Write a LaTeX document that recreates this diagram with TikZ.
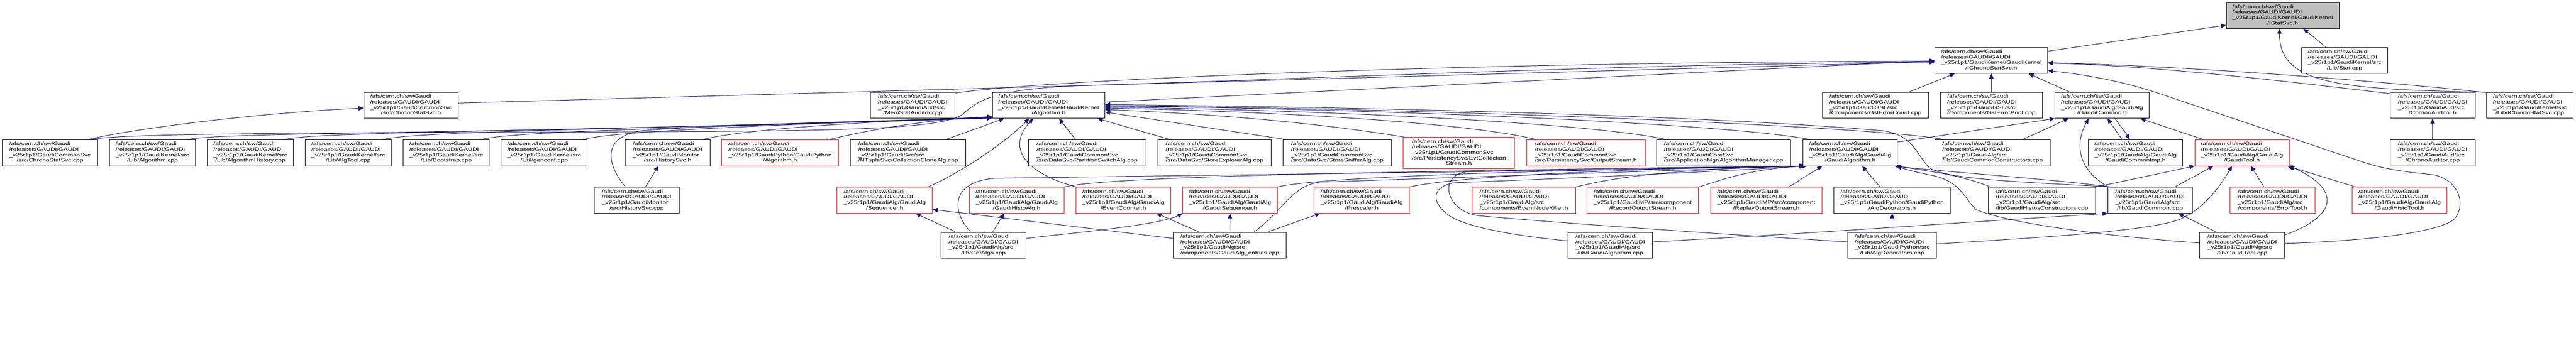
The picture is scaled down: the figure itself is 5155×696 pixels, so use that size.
\documentclass[tikz,border=0pt]{standalone}
\usepackage{fontspec}
\newfontfamily\dfont[FakeStretch=1.27]{Liberation Sans}
\usetikzlibrary{arrows.meta,backgrounds}
\definecolor{midnight}{HTML}{191970}
\definecolor{greyroot}{gray}{0.75}
\newcommand{\glab}[2]{\begin{tabular}{@{}l@{}}/afs/cern.ch/sw/Gaudi\\/releases/GAUDI/GAUDI\\\_v25r1p1/#1\\\multicolumn{1}{@{}c@{}}{#2}\end{tabular}}
\tikzset{
  nbox/.style={rectangle, draw=black, fill=white, line width=1pt, inner sep=0pt, minimum height=52pt, font=\dfont\fontsize{10pt}{11pt}\selectfont, text=black},
  rbox/.style={nbox, draw=red},
  lnk/.style={draw=midnight, line width=1pt, -{Triangle[length=10pt,width=9pt]}},
}
\begin{document}
\begin{tikzpicture}[x=1pt,y=-1pt]
\useasboundingbox (0,0) rectangle (5155,696);
% row 0/1
\node[nbox, fill=greyroot, minimum width=226pt] (S0) at (4568,31) {\glab{GaudiKernel/GaudiKernel}{/IStatSvc.h}};
\node[nbox, minimum width=226pt] (C) at (3985,121) {\glab{GaudiKernel/GaudiKernel}{/IChronoStatSvc.h}};
\node[nbox, minimum width=172pt] (Stat) at (4692,121) {\glab{GaudiKernel/src}{/Lib/Stat.cpp}};
% row 2
\node[nbox, minimum width=189pt] (CSh) at (822.5,211) {\glab{GaudiCommonSvc}{/src/ChronoStatSvc.h}};
\node[nbox, minimum width=169pt] (MemStat) at (1826.5,211) {\glab{GaudiAud/src}{/MemStatAuditor.cpp}};
\node[nbox, minimum width=225pt] (AlgH) at (2098.5,211) {\glab{GaudiKernel/GaudiKernel}{/Algorithm.h}};
\node[nbox, minimum width=212pt] (GslCount) at (3753,211) {\glab{GaudiGSL/src}{/Components/GslErrorCount.cpp}};
\node[nbox, minimum width=204pt] (GslPrint) at (3985,211) {\glab{GaudiGSL/src}{/Components/GslErrorPrint.cpp}};
\node[nbox, minimum width=189pt] (GCh) at (4206.5,211) {\glab{GaudiAlg/GaudiAlg}{/GaudiCommon.h}};
\node[nbox, minimum width=170pt] (ChronoAudH) at (4868,211) {\glab{GaudiAud/src}{/ChronoAuditor.h}};
\node[nbox, minimum width=173pt] (IChronoCpp) at (5062.5,211) {\glab{GaudiKernel/src}{/Lib/IChronoStatSvc.cpp}};
% row 3
\node[nbox, minimum width=190pt] (CScpp) at (100,306) {\glab{GaudiCommonSvc}{/src/ChronoStatSvc.cpp}};
\node[nbox, minimum width=172pt] (Algcpp) at (305,306) {\glab{GaudiKernel/src}{/Lib/Algorithm.cpp}};
\node[nbox, minimum width=172pt] (AlgHist) at (501,306) {\glab{GaudiKernel/src}{/Lib/AlgorithmHistory.cpp}};
\node[nbox, minimum width=172pt] (AlgTool) at (697,306) {\glab{GaudiKernel/src}{/Lib/AlgTool.cpp}};
\node[nbox, minimum width=172pt] (Boot) at (893,306) {\glab{GaudiKernel/src}{/Lib/Bootstrap.cpp}};
\node[nbox, minimum width=172pt] (genconf) at (1089,306) {\glab{GaudiKernel/src}{/Util/genconf.cpp}};
\node[nbox, minimum width=170pt] (HistH) at (1336,306) {\glab{GaudiMonitor}{/src/HistorySvc.h}};
\node[rbox, minimum width=234pt] (GPAlg) at (1561,306) {\glab{GaudiPython/GaudiPython}{/Algorithm.h}};
\node[nbox, minimum width=231pt] (CollClone) at (1817.5,306) {\glab{GaudiSvc/src}{/NTupleSvc/CollectionCloneAlg.cpp}};
\node[nbox, minimum width=235pt] (PartSw) at (2175.5,306) {\glab{GaudiCommonSvc}{/src/DataSvc/PartitionSwitchAlg.cpp}};
\node[nbox, minimum width=227pt] (StoreExp) at (2430.5,306) {\glab{GaudiCommonSvc}{/src/DataSvc/StoreExplorerAlg.cpp}};
\node[nbox, minimum width=216pt] (StoreSniff) at (2676,306) {\glab{GaudiCommonSvc}{/src/DataSvc/StoreSnifferAlg.cpp}};
\node[rbox, minimum width=223pt, minimum height=63pt] (EvtColl) at (2919.5,306.5) {\begin{tabular}{@{}l@{}}/afs/cern.ch/sw/Gaudi\\/releases/GAUDI/GAUDI\\\_v25r1p1/GaudiCommonSvc\\/src/PersistencySvc/EvtCollection\\\multicolumn{1}{@{}c@{}}{Stream.h}\end{tabular}};
\node[rbox, minimum width=237pt] (OutStr) at (3173.5,306) {\glab{GaudiCommonSvc}{/src/PersistencySvc/OutputStream.h}};
\node[nbox, minimum width=268pt] (AlgMgr) at (3449,306) {\glab{GaudiCoreSvc}{/src/ApplicationMgr/AlgorithmManager.cpp}};
\node[nbox, minimum width=189pt] (GAlgH) at (3702.5,306) {\glab{GaudiAlg/GaudiAlg}{/GaudiAlgorithm.h}};
\node[nbox, minimum width=231pt] (GCConstr) at (3987.5,306) {\glab{GaudiAlg/src}{/lib/GaudiCommonConstructors.cpp}};
\node[nbox, minimum width=189pt] (GCImp) at (4273.5,306) {\glab{GaudiAlg/GaudiAlg}{/GaudiCommonImp.h}};
\node[rbox, minimum width=189pt] (GToolH) at (4486.5,306) {\glab{GaudiAlg/GaudiAlg}{/GaudiTool.h}};
\node[nbox, minimum width=170pt] (ChronoAudCpp) at (4868,306) {\glab{GaudiAud/src}{/ChronoAuditor.cpp}};
% row 4
\node[nbox, minimum width=170pt] (HistCpp) at (1274,401) {\glab{GaudiMonitor}{/src/HistorySvc.cpp}};
\node[rbox, minimum width=191pt] (Seq) at (1770.5,401) {\glab{GaudiAlg/GaudiAlg}{/Sequencer.h}};
\node[rbox, minimum width=189pt] (GHistoAlg) at (2034.5,401) {\glab{GaudiAlg/GaudiAlg}{/GaudiHistoAlg.h}};
\node[rbox, minimum width=190pt] (EvtCount) at (2248,401) {\glab{GaudiAlg/GaudiAlg}{/EventCounter.h}};
\node[rbox, minimum width=189pt] (GSeq) at (2461.5,401) {\glab{GaudiAlg/GaudiAlg}{/GaudiSequencer.h}};
\node[rbox, minimum width=190pt] (Presc) at (2725,401) {\glab{GaudiAlg/GaudiAlg}{/Prescaler.h}};
\node[rbox, minimum width=207pt] (ENK) at (3049.5,401) {\glab{GaudiAlg/src}{/components/EventNodeKiller.h}};
\node[rbox, minimum width=223pt] (RecOut) at (3287.5,401) {\glab{GaudiMP/src/component}{/RecordOutputStream.h}};
\node[rbox, minimum width=223pt] (RepOut) at (3534.5,401) {\glab{GaudiMP/src/component}{/ReplayOutputStream.h}};
\node[nbox, minimum width=233pt] (AlgDecH) at (3786.5,401) {\glab{GaudiPython/GaudiPython}{/AlgDecorators.h}};
\node[nbox, minimum width=215pt] (GHConstr) at (4086.5,401) {\glab{GaudiAlg/src}{/lib/GaudiHistosConstructors.cpp}};
\node[nbox, minimum width=169pt] (GCicpp) at (4302.5,401) {\glab{GaudiAlg/src}{/lib/GaudiCommon.icpp}};
\node[rbox, minimum width=170pt] (ErrTool) at (4548,401) {\glab{GaudiAlg/src}{/components/ErrorTool.h}};
\node[rbox, minimum width=190pt] (GHistoTool) at (4802,401) {\glab{GaudiAlg/GaudiAlg}{/GaudiHistoTool.h}};
% row 5
\node[nbox, minimum width=170pt] (GetAlgs) at (1968,491) {\glab{GaudiAlg/src}{/lib/GetAlgs.cpp}};
\node[nbox, minimum width=226pt] (GAEntries) at (2461,491) {\glab{GaudiAlg/src}{/components/GaudiAlg\_entries.cpp}};
\node[nbox, minimum width=169pt] (GAlgCpp) at (3222.5,491) {\glab{GaudiAlg/src}{/lib/GaudiAlgorithm.cpp}};
\node[nbox, minimum width=177pt] (AlgDecCpp) at (3786.5,491) {\glab{GaudiPython/src}{/Lib/AlgDecorators.cpp}};
\node[nbox, minimum width=170pt] (GToolCpp) at (4487,491) {\glab{GaudiAlg/src}{/lib/GaudiTool.cpp}};

\begin{scope}[on background layer]
\fill[white] (0,0) rectangle (5155,696);
% into IStatSvc.h
\draw[lnk] ([yshift=-8pt]C.north east) -- ([yshift=7pt]S0.south west);
\draw[lnk] ([xshift=49pt]Stat.north west) -- ([xshift=155pt]S0.south west);
\draw[lnk] (IChronoCpp.north west) .. controls +(-300,-5) and +(0,110) .. ([xshift=107pt]S0.south west);
% into IChronoStatSvc.h
\draw[lnk] ([yshift=-22pt]CSh.north east) -- ([yshift=-29pt]C.north west);
\draw[lnk] ([yshift=-2pt]MemStat.north east) .. controls +(150,-24) and +(-1000,2) .. ([yshift=-28pt]C.north west);
\draw[lnk] ([yshift=-20pt]AlgH.north east) -- ([yshift=-27pt]C.north west);
\draw[lnk] ([xshift=178pt]CScpp.north west) .. controls (240,266) and (700,266) .. (1300,264) .. controls (1700,262) and (1880,258) .. (1925,230) .. controls (1955,205) and (1975,180) .. (2150,172) .. controls (2700,155) and (3300,127) .. ([yshift=-30pt]C.north west);
\draw[lnk] ([xshift=173pt]GslCount.north west) -- ([xshift=40pt]C.south west);
\draw[lnk] (GslPrint.north) -- (C.south);
\draw[lnk] ([xshift=31pt]GCh.north west) -- ([xshift=188pt]C.south west);
\draw[lnk] ([yshift=-3pt]ChronoAudH.north west) .. controls +(-250,-30) and +(200,5) .. ([yshift=-32pt]C.north east);
\draw[lnk] ([yshift=-1pt]IChronoCpp.north west) .. controls +(-200,-22) and +(300,8) .. ([yshift=-31pt]C.north east);
\draw[lnk] ([yshift=-23pt]GToolCpp.north east) .. controls (4700,484) and (4870,470) .. (4910,440) .. controls (4935,415) and (4925,362) .. (4870,350) .. controls (4820,345) and (4775,340) .. (4730,325) -- (4320,187) .. controls (4240,160) and (4160,148) .. ([yshift=-47pt]C.north east);
% small ones
\draw[lnk] ([xshift=172pt]CScpp.north west) .. controls +(80,-20) and +(-220,10) .. ([yshift=-32pt]CSh.north west);
\draw[lnk] (ChronoAudCpp.north) -- (ChronoAudH.south);
\draw[lnk] ([xshift=103pt]HistCpp.north west) -- ([xshift=67pt]HistH.south west);
% into Algorithm.h from the left
\draw[lnk] ([xshift=158pt]Algcpp.north west) .. controls +(60,-15) and +(-1000,32) .. ([yshift=1pt]AlgH.south west);
\draw[lnk] ([xshift=155pt]AlgHist.north west) .. controls +(60,-16) and +(-900,28) .. ([yshift=1pt]AlgH.south west);
\draw[lnk] ([xshift=156pt]AlgTool.north west) .. controls +(60,-16) and +(-800,25) .. ([yshift=2pt]AlgH.south west);
\draw[lnk] ([xshift=156pt]Boot.north west) .. controls +(60,-16) and +(-650,22) .. ([yshift=2pt]AlgH.south west);
\draw[lnk] ([xshift=164pt]genconf.north west) .. controls +(60,-16) and +(-500,18) .. ([yshift=3pt]AlgH.south west);
\draw[lnk] ([xshift=156pt]HistH.north west) .. controls +(50,-14) and +(-350,12) .. ([yshift=3pt]AlgH.south west);
\draw[lnk] ([xshift=216pt]GPAlg.north west) .. controls +(40,-10) and +(-150,6) .. ([yshift=4pt]AlgH.south west);
\draw[lnk] ([xshift=63pt]HistCpp.north west) .. controls (1215,330) and (1200,272) .. (1290,261) .. controls (1450,250) and (1800,240) .. ([yshift=1pt]AlgH.south west);
% into Algorithm.h from below
\draw[lnk] ([xshift=191pt]CollClone.north west) -- ([xshift=24pt]AlgH.south west);
\draw[lnk] ([xshift=182pt]Seq.north west) .. controls +(70,-30) and +(-45,45) .. ([xshift=74pt]AlgH.south west);
\draw[lnk] ([xshift=2pt]EvtCount.north west) .. controls (2060,350) and (2010,300) .. ([xshift=82pt]AlgH.south west);
\draw[lnk] ([xshift=95pt]PartSw.north west) -- ([xshift=134pt]AlgH.south west);
\draw[lnk] ([xshift=25pt]StoreExp.north west) -- ([xshift=211pt]AlgH.south west);
% into Algorithm.h from the right
\draw[lnk] ([xshift=6pt]StoreSniff.north west) -- ([yshift=-40pt]AlgH.north east);
\draw[lnk] ([xshift=2pt]EvtColl.north west) .. controls +(-150,-25) and +(250,10) .. ([yshift=-35pt]AlgH.north east);
\draw[lnk] ([xshift=20pt]OutStr.north west) .. controls +(-120,-30) and +(400,8) .. ([yshift=-32pt]AlgH.north east);
\draw[lnk] ([xshift=20pt]AlgMgr.north west) .. controls +(-130,-30) and +(500,7) .. ([yshift=-30pt]AlgH.north east);
\draw[lnk] ([xshift=15pt]GAlgH.north west) .. controls +(-150,-30) and +(600,6) .. ([yshift=-28pt]AlgH.north east);
\draw[lnk] ([xshift=18pt]GCConstr.north west) .. controls +(-120,-25) and +(700,6) .. ([yshift=-27pt]AlgH.north east);
\draw[lnk] ([xshift=2pt]GCicpp.north west) .. controls (4100,366) and (3890,362) .. (3860,335) .. controls (3835,310) and (3830,272) .. (3770,262) .. controls (3400,230) and (2700,214) .. ([yshift=-25pt]AlgH.north east);
% into GaudiAlgorithm.h
\draw[lnk] ([xshift=60pt]GetAlgs.north west) .. controls (1905,425) and (1900,365) .. (1990,357) .. controls (2700,347) and (3300,340) .. ([xshift=3pt]GAlgH.south west);
\draw[lnk] (GHistoAlg.north east) .. controls +(90,-22) and +(-800,10) .. ([xshift=4pt]GAlgH.south west);
\draw[lnk] (GSeq.north east) .. controls +(70,-18) and +(-600,9) .. ([xshift=5pt]GAlgH.south west);
\draw[lnk] (Presc.north east) .. controls +(70,-16) and +(-500,8) .. ([xshift=6pt]GAlgH.south west);
\draw[lnk] ([xshift=162pt]GAEntries.north west) .. controls (2565,425) and (2585,372) .. (2640,365) .. controls (3000,352) and (3400,340) .. ([xshift=4pt]GAlgH.south west);
\draw[lnk] (ENK.north east) .. controls +(60,-15) and +(-300,7) .. ([xshift=7pt]GAlgH.south west);
\draw[lnk] (RecOut.north east) .. controls +(40,-12) and +(-120,6) .. ([xshift=9pt]GAlgH.south west);
\draw[lnk] ([yshift=-18pt]GAlgCpp.north west) .. controls (3060,475) and (2950,460) .. (2905,435) .. controls (2865,410) and (2860,375) .. (2910,366) .. controls (3200,355) and (3500,340) .. ([xshift=5pt]GAlgH.south west);
\draw[lnk] ([yshift=-20pt]AlgDecCpp.north west) .. controls (3400,466) and (3100,445) .. (2960,432) .. controls (2895,425) and (2875,352) .. (2935,344) .. controls (3200,337) and (3450,334) .. ([xshift=6pt]GAlgH.south west);
\draw[lnk] ([xshift=157pt]RepOut.north west) -- ([xshift=39pt]GAlgH.south west);
\draw[lnk] ([xshift=93pt]AlgDecH.north west) -- ([xshift=119pt]GAlgH.south west);
\draw[lnk] ([xshift=5pt]GHConstr.north west) .. controls +(-60,-25) and +(50,8) .. ([xshift=-4pt]GAlgH.south east);
\draw[lnk] ([xshift=8pt]GCicpp.north west) .. controls (4100,358) and (3900,345) .. ([xshift=-7pt]GAlgH.south east);
\draw[lnk] ([yshift=-22pt]GToolCpp.north west) .. controls (4300,480) and (4040,455) .. (3955,420) .. controls (3932,400) and (3925,365) .. (3870,352) .. controls (3840,346) and (3815,340) .. ([xshift=-2pt]GAlgH.south east);
% into GaudiCommon.h
\draw[lnk] ([yshift=-5pt]GAlgH.north east) -- (GCh.south west);
\draw[lnk] ([xshift=176pt]GCConstr.north west) -- ([xshift=28pt]GCh.south west);
\draw[lnk] ([xshift=2pt]GCicpp.north west) .. controls (4165,345) and (4148,295) .. ([xshift=68pt]GCh.south west);
\draw[lnk] ([xshift=68pt]GCImp.north west) -- ([xshift=106pt]GCh.south west);
\draw[lnk] ([xshift=121pt]GCh.south west) .. controls +(10,15) and +(-8,-15) .. ([xshift=83pt]GCImp.north west);
\draw[lnk] ([xshift=18pt]GToolH.north west) -- ([xshift=172pt]GCh.south west);
% into GaudiTool.h
\draw[lnk] (GHConstr.north east) -- (GToolH.south west);
\draw[lnk] ([xshift=134pt]GCicpp.north west) -- ([xshift=38pt]GToolH.south west);
\draw[lnk] ([yshift=-24pt]AlgDecCpp.north east) .. controls (4100,475) and (4300,462) .. (4360,440) .. controls (4410,420) and (4445,370) .. ([xshift=75pt]GToolH.south west);
\draw[lnk] ([xshift=68pt]ErrTool.north west) -- ([xshift=113pt]GToolH.south west);
\draw[lnk] ([xshift=8pt]GHistoTool.north west) -- ([xshift=186pt]GToolH.south west);
\draw[lnk] ([yshift=-6pt]GToolCpp.north east) .. controls +(110,-40) and +(100,45) .. (GToolH.south east);
% into GaudiCommon.icpp
\draw[lnk] ([xshift=33pt]GToolCpp.north west) -- ([xshift=142pt]GCicpp.south west);
\draw[lnk] ([yshift=-20pt]GAlgCpp.north east) .. controls +(400,-22) and +(-300,18) .. (GCicpp.south west);
% row 4 targets
\draw[lnk] ([xshift=30pt]GetAlgs.north west) -- ([xshift=158pt]Seq.south west);
\draw[lnk] ([yshift=-13pt]GAEntries.north west) -- ([yshift=-45pt]Seq.north east);
\draw[lnk] ([xshift=104pt]GetAlgs.north west) -- ([xshift=70pt]GHistoAlg.south west);
\draw[lnk] ([xshift=52pt]GAEntries.north west) -- ([xshift=162pt]EvtCount.south west);
\draw[lnk] (GAEntries.north) -- (GSeq.south);
\draw[lnk] ([yshift=-13pt]GetAlgs.north east) .. controls +(60,-8) and +(-50,25) .. (GSeq.south west);
\draw[lnk] ([xshift=189pt]GAEntries.north west) -- ([xshift=12pt]Presc.south west);
\draw[lnk] (AlgDecCpp.north) -- (AlgDecH.south);
\end{scope}
\end{tikzpicture}
\end{document}
